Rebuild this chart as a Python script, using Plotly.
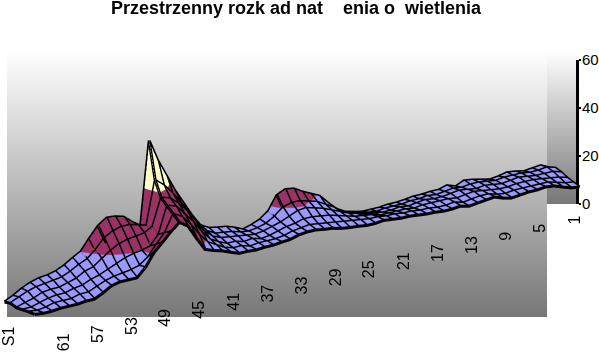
import plotly.graph_objects as go

categories = list(range(65, 0, -1))
tick_labels = ["61", "57", "53", "49", "45", "41", "37", "33", "29", "25", "21", "17", "13", "9", "5", "1"]
series_label = "S1"
z_ticks = [0, 20, 40, 60]
title = "Przestrzenny rozk ad nat\u00a0\u00a0\u00a0\u00a0enia o\u00a0\u00a0wietlenia"

s_row0 = [6.7,8.3,10.4,12,13,13.4,14.2,15.8,18,20,
          24.6,28.8,31.3,31,30,27,24.6,59,50,43,
          36,30,24,19,17,16.3,15.8,14.6,13,14,
          15.4,18,23.8,25.4,24.8,22.7,21,19.3,15.6,12.2,
          10.2,9.3,8.5,8.5,8.5,8.9,8.9,9.2,9.7,9.7,
          10,10,11,9.7,11.3,10.8,10,9.2,9.6,10.4,
          10,9.2,9.6,10,8.3]
s_row1 = [7.5,9,10.5,11.5,12,12.5,13,14.5,16.5,18,
          21,25,27,28,28,27,26,44,41,37,
          32,27,22,18,16,15.5,15,14,13.5,14,
          15,17,20,21,21,20,19,17,15,12.5,
          11,10,9.5,9,9.5,9.5,9.5,10,10,10.5,
          10,10.5,11,10.5,11,11,10.5,10,10.5,10.5,
          10.5,10,10,10.5,9.5]
s_row2 = [7,8,9,10.5,11,11,12,13,15,16,
          18.5,21,23,24,24.5,25,27,38,37,34,
          30,25,20,17,15.5,15,14.5,14,13.5,14,
          15,16,17.5,19,19.5,18.5,17.5,16,14.5,13,
          12,11,10.5,10,10,10.5,10,10.5,11,10.5,
          10.5,11,11.5,11,10.5,11,10.5,10,10.5,11,
          10.5,10,10,10,9]
s_row3 = [7.5,7.5,8.5,9.5,10,10,11,11.5,13,14,
          15.5,17,18.5,19.5,20,21,25,36,35,31,
          27,22,18,16,14.5,14.5,13.5,14,13,13.5,
          14.5,15.5,16,17,17,16.5,16,15,14,13,
          12.5,12,11,11,11,11,10.5,11,11,11,
          11,10.5,11,11.5,11,10.5,10,10,10.5,10.5,
          10.5,10,9.5,9,8]
s_row4 = [8,7.5,8,9,9,9,10,10,11.5,13,
          14,14.5,15,16,18.5,23,27,34,32,28,
          23,19,17,15,14,14,13,13.5,13.5,13.5,
          14,15,15.5,16,15.5,15,14.5,14,13.5,13,
          12.5,12.5,12,12,11.5,11.5,11,11,10.5,10.5,
          11,10,10.5,11,11,10,9.5,10,10,10,
          10,10,9,8,7.5]
s_row5 = [8.3,7.9,7.9,8.3,8.3,8.3,8.7,8.7,10.4,12.5,
          13.3,13.3,13.3,16.7,22,25.4,29,32,29.6,23.7,
          18.3,17,16,14.6,13.3,13.3,13,13.3,13.3,13.7,
          14,15,15.4,15.4,14.8,14.4,13.5,13,12.7,12.2,
          12.2,12.6,12.2,11.8,11.8,11.4,11,10.9,10.5,10.5,
          10.9,10,10.5,10.9,11.3,10,9.2,9.6,10,10,
          10.4,10,8.7,7.5,7]
front_to_back = [s_row5, s_row4, s_row3, s_row2, s_row1, s_row0]

W, H = 599, 354
INK = "#000000"
FONT = "Liberation Sans, Arial, sans-serif"
x_index = list(range(len(categories)))
y_index = list(range(len(front_to_back)))

fade = [[0, "#777777"], [1, "#ffffff"]]
ramp = [[0, 0], [1, 1]]

def dom_x(a, b):
    return [a / W, b / W]

def dom_y(top, bottom):
    return [(H - bottom) / H, (H - top) / H]

fig = go.Figure()
fig.add_trace(go.Heatmap(z=ramp, x=[0, 1], y=[0, 1], colorscale=fade, zmin=0, zmax=1,
                         zsmooth="best", showscale=False, hoverinfo="skip", xaxis="x", yaxis="y"))
fig.add_trace(go.Heatmap(z=ramp, x=[0, 1], y=[0, 1], colorscale=fade, zmin=0, zmax=1,
                         zsmooth="best", showscale=False, hoverinfo="skip", xaxis="x2", yaxis="y2"))
fig.add_trace(go.Scatter(x=[0], y=[0], mode="markers", marker=dict(opacity=0), xaxis="x3", yaxis="y3",
                         hoverinfo="skip", showlegend=False))

bands = [[0, "#9999FF"], [1/3, "#9999FF"], [1/3, "#993366"], [2/3, "#993366"], [2/3, "#FFFFCC"], [1, "#FFFFCC"]]
fig.add_trace(go.Surface(
    x=x_index, y=y_index, z=front_to_back, colorscale=bands, cmin=0, cmax=60, showscale=False,
    lighting=dict(ambient=1, diffuse=0, specular=0, roughness=1, fresnel=0),
    hoverinfo="skip"))

# wire mesh over the surface, from the same rows
mx, my, mz = [], [], []
for j, row in enumerate(front_to_back):
    mx += x_index + [None]
    my += [j] * len(x_index) + [None]
    mz += row + [None]
for i in x_index:
    mx += [i] * len(y_index) + [None]
    my += y_index + [None]
    mz += [row[i] for row in front_to_back] + [None]
fig.add_trace(go.Scatter3d(x=mx, y=my, z=mz, mode="lines", line=dict(color=INK, width=6),
                           connectgaps=False, hoverinfo="skip", showlegend=False))

hidden3d = dict(visible=False, showgrid=False, zeroline=False, showspikes=False, showbackground=False)
scene_notes = []
for lab in tick_labels:
    scene_notes.append(dict(x=categories.index(int(lab)), y=0, z=0, text=lab, textangle=-90,
                            showarrow=False, xshift=-6, yshift=-16, font=dict(family=FONT, size=16, color=INK)))
scene_notes.append(dict(x=0, y=0, z=0, text=series_label, textangle=-90, showarrow=False,
                        xshift=-26, yshift=-2, font=dict(family=FONT, size=16, color=INK)))

k = 2.7
fig.update_layout(
    width=W, height=H, autosize=False, margin=dict(l=0, r=0, t=0, b=0, autoexpand=False),
    paper_bgcolor="#ffffff", plot_bgcolor="rgba(0,0,0,0)", showlegend=False,
    title=dict(text="<b>" + title + "</b>", x=296 / W, xanchor="center", xref="container",
               y=1 - 8 / H, yanchor="middle", yref="container",
               font=dict(family=FONT, size=18, color=INK)),
    xaxis=dict(domain=dom_x(7, 547), range=[0, 1], visible=False, fixedrange=True),
    yaxis=dict(domain=dom_y(50, 317), range=[0, 1], visible=False, fixedrange=True),
    xaxis2=dict(domain=dom_x(547, 577), range=[0, 1], visible=False, fixedrange=True),
    yaxis2=dict(domain=dom_y(50, 204), range=[0, 1], visible=False, fixedrange=True),
    xaxis3=dict(domain=dom_x(577, 590), range=[0, 1], visible=False, fixedrange=True),
    yaxis3=dict(domain=dom_y(60, 204), range=[0, 60], tickvals=z_ticks, ticks="outside", ticklen=2,
                ticklabelstandoff=-2,
                tickwidth=2, tickcolor=INK, side="right", anchor="free", position=577 / W,
                showline=True, linecolor=INK, linewidth=3, showgrid=False, zeroline=False,
                tickfont=dict(family=FONT, size=15, color=INK), fixedrange=True),
    scene=dict(
        domain=dict(x=[0, 1 - 15 / W], y=[0, 1 - 23 / H]),
        bgcolor="rgba(0,0,0,0)",
        xaxis=dict(range=[0, 64], **hidden3d),
        yaxis=dict(range=[0, 5], **hidden3d),
        zaxis=dict(range=[0, 60], **hidden3d),
        aspectmode="manual",
        aspectratio=dict(x=3.96, y=0.33, z=0.94),
        camera=dict(eye=dict(x=-0.519 * k, y=-0.776 * k, z=0.358 * k),
                    center=dict(x=0, y=0, z=0), up=dict(x=0, y=0, z=1),
                    projection=dict(type="orthographic")),
        annotations=scene_notes,
    ),
)
fig.write_html("out.html", config=dict(displayModeBar=False),
               post_script="document.body.style.margin='0';")
